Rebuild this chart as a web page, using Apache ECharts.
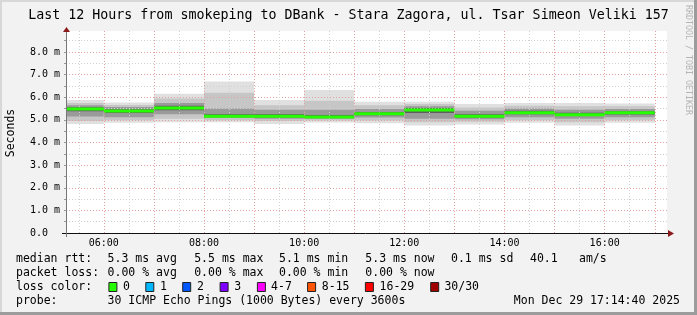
<!DOCTYPE html>
<html><head><meta charset="utf-8">
<script src="https://cdn.jsdelivr.net/npm/echarts@6/dist/echarts.min.js"></script>
<style>html,body{margin:0;padding:0;background:#f2f2f2}#c{width:697px;height:315px}</style>
</head><body><div id="c"></div>
<script>
// ---------------- DATA ----------------
const titleText = 'Last 12 Hours from smokeping to DBank - Stara Zagora, ul. Tsar Simeon Veliki 157';
const sampleEnd = [6, 7, 8, 9, 10, 11, 12, 13, 14, 15, 16, 17];      // hour at which each 1 h sample ends
const median    = [5.48, 5.39, 5.53, 5.16, 5.16, 5.13, 5.27, 5.44, 5.16, 5.32, 5.23, 5.31]; // ms
const lossCount = [0, 0, 0, 0, 0, 0, 0, 0, 0, 0, 0, 0];
const pMin = [4.82, 4.87, 4.89, 4.89, 4.82, 4.88, 4.85, 4.75, 4.80, 4.87, 4.75, 4.87];
const p10  = [4.95, 4.98, 5.05, 4.98, 4.95, 4.97, 4.97, 4.90, 4.92, 4.98, 4.90, 4.98];
const p25  = [5.15, 5.12, 5.25, 5.08, 5.05, 5.05, 5.10, 5.05, 5.03, 5.12, 5.05, 5.12];
const p40  = [5.38, 5.30, 5.43, 5.13, 5.12, 5.10, 5.20, 5.30, 5.11, 5.25, 5.17, 5.24];
const p60  = [5.56, 5.47, 5.62, 5.25, 5.25, 5.22, 5.35, 5.52, 5.25, 5.40, 5.32, 5.38];
const p75  = [5.65, 5.57, 5.75, 5.50, 5.45, 5.45, 5.48, 5.60, 5.40, 5.50, 5.45, 5.48];
const p90  = [5.75, 5.66, 5.95, 6.20, 5.65, 5.85, 5.65, 5.70, 5.55, 5.62, 5.60, 5.60];
const pMax = [5.88, 5.77, 6.15, 6.70, 5.88, 6.32, 5.80, 5.80, 5.70, 5.75, 5.75, 5.72];
const xTickHours  = [6, 8, 10, 12, 14, 16];
const xTickLabels = ['06:00', '08:00', '10:00', '12:00', '14:00', '16:00'];
const yTickValues = [0, 1, 2, 3, 4, 5, 6, 7, 8];
const yTickLabels = ['0.0', '1.0 m', '2.0 m', '3.0 m', '4.0 m', '5.0 m', '6.0 m', '7.0 m', '8.0 m'];
const rttLabel = 'median rtt:';
const rttStats = ['5.3 ms avg', '5.5 ms max', '5.1 ms min', '5.3 ms now', '0.1 ms sd', '40.1', 'am/s'];
const lossLabel = 'packet loss:';
const lossStats = ['0.00 % avg', '0.00 % max', '0.00 % min', '0.00 % now'];
const lossColorLabel = 'loss color:';
const lossNames  = ['0', '1', '2', '3', '4-7', '8-15', '16-29', '30/30'];
const lossColors = ['#26ff00', '#00b8ff', '#0059ff', '#7e00ff', '#ff00fe', '#ff5500', '#ff0000', '#a10000'];
const probeLabel = 'probe:';
const probeText = '30 ICMP Echo Pings (1000 Bytes) every 3600s';
const dateText = 'Mon Dec 29 17:14:40 2025';
const sideText = 'RRDTOOL / TOBI OETIKER';
const xStart = 5 + 14 / 60 + 40 / 3600;   // 05:14:40
const xEnd = xStart + 12;

// ---------------- LAYOUT / STYLE ----------------
const MONO = '"DejaVu Sans Mono", monospace';
const smokeShades = ['#e0e0e0', '#c6c6c6', '#9a9a9a', '#5e5e5e'];
const minorGrid = '#d0d0d0', majorGrid = '#e2a0a0';
const rowY = [259, 273, 287, 301];
const statX = [107.6, 194.2, 279, 365.3, 451, 530, 579];
const boxX = [108.4, 145.3, 182.2, 219.6, 256.9, 307.1, 364.9, 430.2];
const boxLabelX = [123, 160, 196.9, 234.2, 271.1, 321.8, 379.6, 444.4];

const chart = echarts.init(document.getElementById('c'), null, {renderer: 'canvas'});

const smokeData = sampleEnd.map((e, i) => [e, pMin[i], p10[i], p25[i], p40[i], p60[i], p75[i], p90[i], pMax[i]]);
const medData = sampleEnd.map((e, i) => [e, median[i], lossCount[i]]);

function clipTo(params, r) {
  const cs = params.coordSys;
  return echarts.graphic.clipRectByRect(r, {x: cs.x, y: cs.y, width: cs.width, height: cs.height});
}
function renderSmoke(params, api) {
  const end = api.value(0);
  const xa = api.coord([end - 1, 0])[0], xb = api.coord([end, 0])[0];
  const pairs = [[1, 8], [2, 7], [3, 6], [4, 5]];
  const children = [];
  pairs.forEach((p, k) => {
    const yTop = api.coord([end, api.value(p[1])])[1];
    const yBot = api.coord([end, api.value(p[0])])[1];
    const r = clipTo(params, {x: xa, y: yTop, width: xb - xa, height: yBot - yTop});
    if (r) children.push({type: 'rect', shape: r, style: {fill: smokeShades[k]}});
  });
  return {type: 'group', children};
}
function renderMedian(params, api) {
  const end = api.value(0);
  const xa = api.coord([end - 1, 0])[0], xb = api.coord([end, 0])[0];
  const y = api.coord([end, api.value(1)])[1];
  const r = clipTo(params, {x: xa, y: y - 1.5, width: xb - xa, height: 3});
  const loss = api.value(2);
  return r ? {type: 'rect', shape: r, style: {fill: lossColors[loss === 0 ? 0 : 1]}} : null;
}

const txt = (x, y, t, extra) => Object.assign({type: 'text', x, y, z: 50,
  style: Object.assign({text: t, font: '11.5px ' + MONO, fill: '#000', verticalAlign: 'middle'}, extra || {})});

const graphics = [
  {type: 'rect', shape: {x: 0, y: 0, width: 697, height: 2}, style: {fill: '#d8d8d8'}, z: 50},
  {type: 'rect', shape: {x: 0, y: 0, width: 2, height: 315}, style: {fill: '#d8d8d8'}, z: 50},
  {type: 'rect', shape: {x: 694, y: 0, width: 3, height: 315}, style: {fill: '#9c9c9c'}, z: 50},
  {type: 'rect', shape: {x: 0, y: 312, width: 697, height: 3}, style: {fill: '#9c9c9c'}, z: 50},
  {type: 'line', shape: {x1: 62, y1: 233.5, x2: 669, y2: 233.5}, style: {stroke: '#111', lineWidth: 1}, z: 60},
  {type: 'line', shape: {x1: 66.5, y1: 237, x2: 66.5, y2: 31}, style: {stroke: '#777', lineWidth: 1}, z: 60},
  {type: 'polygon', shape: {points: [[668, 230], [668, 237], [674, 233.5]]}, style: {fill: '#8b1a1a'}, z: 60},
  {type: 'polygon', shape: {points: [[63, 32], [70, 32], [66.5, 27]]}, style: {fill: '#8b1a1a'}, z: 60},
  {type: 'text', x: 688, y: 5, rotation: -Math.PI / 2, z: 50,
   style: {text: sideText, font: '8.3px ' + MONO, fill: '#b4b4b4', verticalAlign: 'middle', align: 'left'}},
  {type: 'text', x: 11, y: 133, rotation: Math.PI / 2, z: 50,
   style: {text: 'Seconds', font: '11.5px ' + MONO, fill: '#000', verticalAlign: 'middle', align: 'center'}},
  txt(16, rowY[0], rttLabel), txt(16, rowY[1], lossLabel), txt(16, rowY[2], lossColorLabel), txt(16, rowY[3], probeLabel),
  txt(107.6, rowY[3], probeText),
  txt(680, rowY[3], dateText, {align: 'right'})
];
rttStats.forEach((s, i) => graphics.push(txt(statX[i], rowY[0], s)));
lossStats.forEach((s, i) => graphics.push(txt(statX[i], rowY[1], s)));
lossNames.forEach((n, i) => {
  graphics.push({type: 'rect', shape: {x: boxX[i] + 0.5, y: rowY[2] - 4.5, width: 8, height: 9},
    style: {fill: lossColors[i], stroke: '#222', lineWidth: 1}, z: 50});
  graphics.push(txt(boxLabelX[i], rowY[2], n));
});

const gridTop = 31, gridBottom = 82;
const pxPerMs = 22.625;
const yMax = (315 - gridTop - gridBottom) / pxPerMs;

chart.setOption({
  animation: false,
  backgroundColor: '#f2f2f2',
  title: {text: titleText, left: 'center', top: 4,
    textStyle: {fontFamily: MONO, fontSize: 13.3, fontWeight: 'normal', color: '#000'}},
  grid: {left: 66, right: 30, top: gridTop, bottom: gridBottom, show: true, backgroundColor: '#ffffff', borderWidth: 0,
    containLabel: false, outerBoundsMode: 'none'},
  xAxis: {
    type: 'value', min: xStart, max: xEnd, splitNumber: 24, z: 10,
    axisLine: {show: false}, axisTick: {show: false},
    axisLabel: {margin: 5, fontFamily: MONO, fontSize: 10, color: '#000', showMinLabel: false, showMaxLabel: false,
      formatter: v => { const i = xTickHours.indexOf(Math.round(v * 1e6) / 1e6); return i >= 0 ? xTickLabels[i] : ''; }},
    splitLine: {show: true, showMinLine: false, showMaxLine: false,
      lineStyle: {color: [minorGrid, majorGrid], type: [1, 2], width: 1}}
  },
  yAxis: {
    type: 'value', min: 0, max: yMax, interval: 0.5, z: 10,
    axisLine: {show: false},
    axisTick: {show: true, length: 2, lineStyle: {color: '#999'}},
    axisLabel: {align: 'left', margin: 36, fontFamily: MONO, fontSize: 10, color: '#000', showMaxLabel: false,
      formatter: v => { const i = yTickValues.indexOf(v); return i >= 0 ? yTickLabels[i] : ''; }},
    splitLine: {show: true, showMaxLine: false,
      lineStyle: {color: [majorGrid, minorGrid], type: [1, 2], width: 1}}
  },
  series: [
    {type: 'custom', name: 'smoke', data: smokeData, renderItem: renderSmoke, z: 2,
     encode: {x: 0, y: [1, 8]}, silent: true},
    {type: 'custom', name: 'median', data: medData, renderItem: renderMedian, z: 20,
     encode: {x: 0, y: 1}, silent: true}
  ],
  graphic: graphics
});
</script></body></html>
